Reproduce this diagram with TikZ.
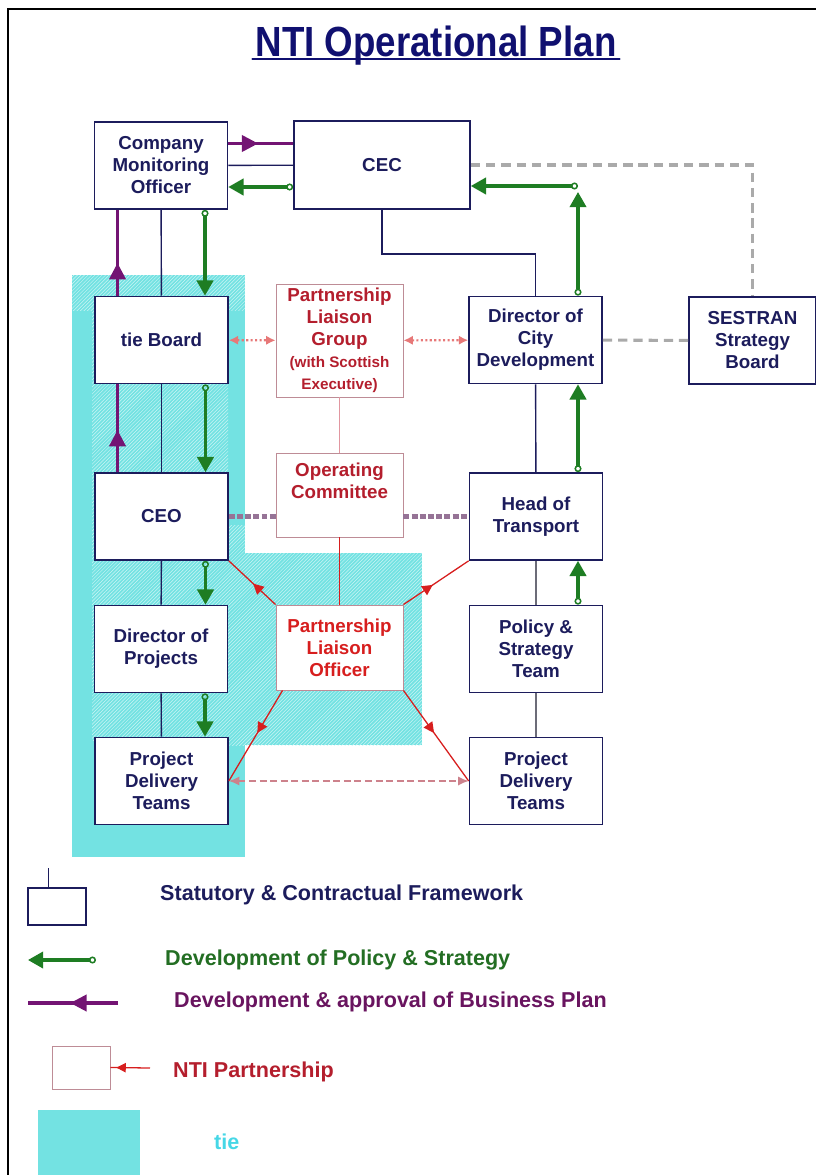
\documentclass[tikz,border=0pt]{standalone}
\usepackage{fontspec}
\setmainfont{Liberation Sans}
\usetikzlibrary{positioning,calc,arrows.meta,decorations.markings,patterns}

\definecolor{navyTxt}{RGB}{28,28,92}
\definecolor{titleBlue}{RGB}{16,16,112}
\definecolor{grn}{RGB}{30,125,35}
\definecolor{grnTxt}{RGB}{35,110,35}
\definecolor{pur}{RGB}{115,20,115}
\definecolor{purTxt}{RGB}{105,20,95}
\definecolor{redLn}{RGB}{215,30,30}
\definecolor{redTxt}{RGB}{180,30,45}
\definecolor{pinkBd}{RGB}{190,140,150}
\definecolor{pinkLn}{RGB}{225,150,160}
\definecolor{pinkDash}{RGB}{205,130,140}
\definecolor{tieTeal}{RGB}{115,226,226}
\definecolor{hatchLn}{RGB}{205,245,245}
\definecolor{tieCyan}{RGB}{70,215,230}
\definecolor{grayDashC}{RGB}{170,170,170}
\definecolor{purDashC}{RGB}{150,115,150}

\newcommand\plgNote{\fontsize{13}{15}\selectfont}

\begin{document}
\begin{tikzpicture}[x=0.03cm, y=-0.03cm,
    every node/.style={font=\bfseries\fontsize{16}{18.8}\selectfont},
    box/.style={draw=navyTxt, line width=1.4pt, fill=white, text=navyTxt, align=center,
      minimum width=3.99cm, minimum height=2.61cm, inner sep=0pt},
    boxLink/.style={box, draw=pinkBd, line width=0.8pt, text=redTxt, minimum width=3.81cm},
    legText/.style={anchor=west, inner sep=0pt, font=\bfseries\fontsize{18.4}{22}\selectfont},
    navyLine/.style={draw=navyTxt, line width=1.2pt},
    grayLine/.style={draw=gray!80!navyTxt, line width=1.4pt},
    grnArr/.style={color=grn,
      arrows={Circle[open,length=6pt,width=6pt,line width=1.3pt]-Triangle[length=13pt,width=14pt]},
      line width=2.6pt},
    purLine/.style={color=pur, line width=2.6pt},
    midArr/.style 2 args={postaction={decorate}, decoration={markings,
      mark=at position #1 with {\arrow{Triangle[length=#2,width=#2]}}}},
    redLine/.style={color=redLn, line width=1.1pt},
    redDot/.style={color=redLn!60, line width=1.8pt, dotted,
      {Latex[length=8pt,width=8pt]}-{Latex[length=8pt,width=8pt]}},
    redDash/.style={color=pinkDash, line width=1.6pt, dash pattern=on 6pt off 3pt,
      {Latex[length=9pt,width=8pt]}-{Latex[length=9pt,width=8pt]}},
    grayDash/.style={draw=grayDashC, line width=2.6pt, dash pattern=on 8pt off 5pt},
    purDash/.style={draw=purDashC, line width=4.5pt, dash pattern=on 5pt off 2pt},
    hatch/.style={pattern=north east lines, pattern color=hatchLn}
  ]
  \useasboundingbox (0,0) rectangle (816,1175);

  % tie areas
  \fill[tieTeal] (72,275) rectangle (245,857);
  \fill[hatch] (72,275) rectangle (245,310);
  \fill[hatch] (92,310) rectangle (228,740);
  \fill[hatch] (228,525) rectangle (245,745);
  \fill[tieTeal] (245,553) rectangle (422,745);
  \fill[hatch] (245,553) rectangle (422,745);

  % frame
  \draw[line width=1.5pt] (8,1175) -- (8,9) -- (816,9);

  % title
  \node[font=\bfseries\fontsize{36}{40}\selectfont, text=titleBlue, xscale=0.87,
    inner sep=0pt, anchor=base] (title) at (436,56) {NTI Operational Plan};
  \draw[titleBlue, line width=1.8pt, line cap=round]
    ($(title.base west)+(-3,3)$) -- ($(title.base east)+(3,3)$);

  % boxes
  \node[box] (cmo) at (161,165.5) {Company\\Monitoring\\Officer};
  \node[box, minimum width=5.28cm, minimum height=2.64cm] (cec) at (382,165) {CEC};
  \node[box] (tieB) at (161.5,340) {tie Board};
  \node[boxLink, minimum height=3.39cm] (plg) at (339.5,340.5)
    {Partnership\\Liaison\\Group\\{\plgNote(with Scottish}\\{\plgNote Executive)}};
  \node[box] (dcd) at (535.5,340) {Director of\\City\\Development};
  \node[box, minimum width=3.81cm] (sestran) at (752.5,340.5) {SESTRAN\\Strategy\\Board};
  \node[box] (ceo) at (161.5,516.5) {CEO};
  \node[boxLink, minimum height=2.52cm] (opc) at (339.5,495) {Operating\\Committee\\\strut};
  \node[box] (hot) at (536,516.5) {Head of\\Transport};
  \node[box] (dop) at (161,649) {Director of\\Projects};
  \node[boxLink, minimum height=2.55cm, text=redLn] (plo) at (339.5,647.5) {Partnership\\Liaison\\Officer};
  \node[box] (pst) at (536,649) {Policy \&\\Strategy\\Team};
  \node[box] (pdtL) at (161.5,781) {Project\\Delivery\\Teams};
  \node[box] (pdtR) at (536,781) {Project\\Delivery\\Teams};

  % statutory links
  \draw[navyLine] (cmo) -- (cec);
  \draw[navyLine] (cmo) -- (tieB);
  \draw[navyLine] (tieB) -- (ceo);
  \draw[navyLine] (ceo) -- (dop);
  \draw[navyLine] (dop) -- (pdtL);
  \draw[navyLine] (cec.south) -- ++(0,44) -| (dcd.north);
  \draw[navyLine] (dcd) -- (hot);
  \draw[grayLine] (hot) -- (pst);
  \draw[grayLine] (pst) -- (pdtR);

  % business plan
  \path (cmo.east) ++(0,-22) coordinate (bpA);
  \draw[purLine, midArr={0.46}{14pt}] (bpA) -- (bpA -| cec.west);
  \path (tieB.north) ++(-44,0) coordinate (bpB);
  \draw[purLine, midArr={0.38}{14pt}] (bpB) -- (bpB |- cmo.south);
  \path (ceo.north) ++(-44,0) coordinate (bpC);
  \draw[purLine, midArr={0.48}{14pt}] (bpC) -- (bpC |- tieB.south);

  % policy & strategy
  \path (cec.west) ++(0,22) coordinate (psA);
  \draw[grnArr] (psA) -- (psA -| cmo.east);
  \path (cmo.south) ++(44,0) coordinate (psB);
  \draw[grnArr] (psB) -- (psB |- tieB.north);
  \path (tieB.south) ++(44,0) coordinate (psC);
  \draw[grnArr] (psC) -- (psC |- ceo.north);
  \path (ceo.south) ++(44,0) coordinate (psD);
  \draw[grnArr] (psD) -- (psD |- dop.north);
  \path (dop.south) ++(44,0) coordinate (psE);
  \draw[grnArr] (psE) -- (psE |- pdtL.north);
  \coordinate (psCorner) at (578,186);
  \draw[grnArr] (psCorner |- dcd.north) -- ($(psCorner)+(0,6)$);
  \draw[grnArr] (psCorner) -- (psCorner -| cec.east);
  \draw[grnArr] (psCorner |- hot.north) -- (psCorner |- dcd.south);
  \draw[grnArr] (psCorner |- pst.north) -- (psCorner |- hot.south);

  % SESTRAN
  \draw[grayDash] (cec.east) -| (sestran.north);
  \draw[grayDash] (dcd) -- (sestran);

  % partnership
  \draw[redDot] (tieB) -- (plg);
  \draw[redDot] (plg) -- (dcd);
  \draw[draw=pinkLn, line width=1.5pt] (plg) -- (opc);
  \draw[purDash] (ceo.east) -- (ceo.east -| opc.west);
  \draw[purDash] (hot.west -| opc.east) -- (hot.west);
  \draw[redLine] (opc) -- (plo);
  \draw[redLine, midArr={0.48}{9pt}] (plo.north west) -- (ceo.south east);
  \draw[redLine, midArr={0.45}{9pt}] (plo.north east) -- (hot.south west);
  \draw[redLine, midArr={0.47}{9pt}] ($(plo.south west)+(7,0)$) -- (pdtL.east);
  \draw[redLine, midArr={0.47}{9pt}] (plo.south east) -- (pdtR.west);
  \draw[redDash] (pdtL) -- (pdtR);

  % legend
  \node[draw=navyTxt, line width=1.2pt, minimum width=1.74cm, minimum height=1.11cm,
    inner sep=0pt] (legStat) at (57,906.5) {};
  \draw[navyLine] ($(legStat.north west)+(21,0)$) -- ++(0,-19);
  \node[legText, text=navyTxt] (txtStat) at (160,895) {Statutory \& Contractual Framework};
  \coordinate (legGrnA) at (96,960);
  \coordinate (legGrnB) at (28,960);
  \draw[grnArr] (legGrnA) -- (legGrnB);
  \node[legText, text=grnTxt] (txtGrn) at (165,960) {Development of Policy \& Strategy};
  \coordinate (legPurA) at (118,1003);
  \coordinate (legPurB) at (28,1003);
  \draw[purLine, midArr={0.53}{14pt}] (legPurA) -- (legPurB);
  \node[legText, text=purTxt] (txtPur) at (174,1002) {Development \& approval of Business Plan};
  \node[draw=pinkBd, line width=0.8pt, minimum width=1.74cm, minimum height=1.29cm,
    inner sep=0pt] (legRed) at (81,1067.5) {};
  \coordinate (legRedA) at (150,1068);
  \draw[redLine, midArr={0.85}{8pt}] (legRedA) -- (legRed.east);
  \node[legText, text=redTxt] (txtRed) at (173,1072) {NTI Partnership};
  \fill[tieTeal] (38,1110) rectangle (140,1175);
  \node[legText, text=tieCyan] (txtTie) at (214,1142) {tie};
\end{tikzpicture}
\end{document}
